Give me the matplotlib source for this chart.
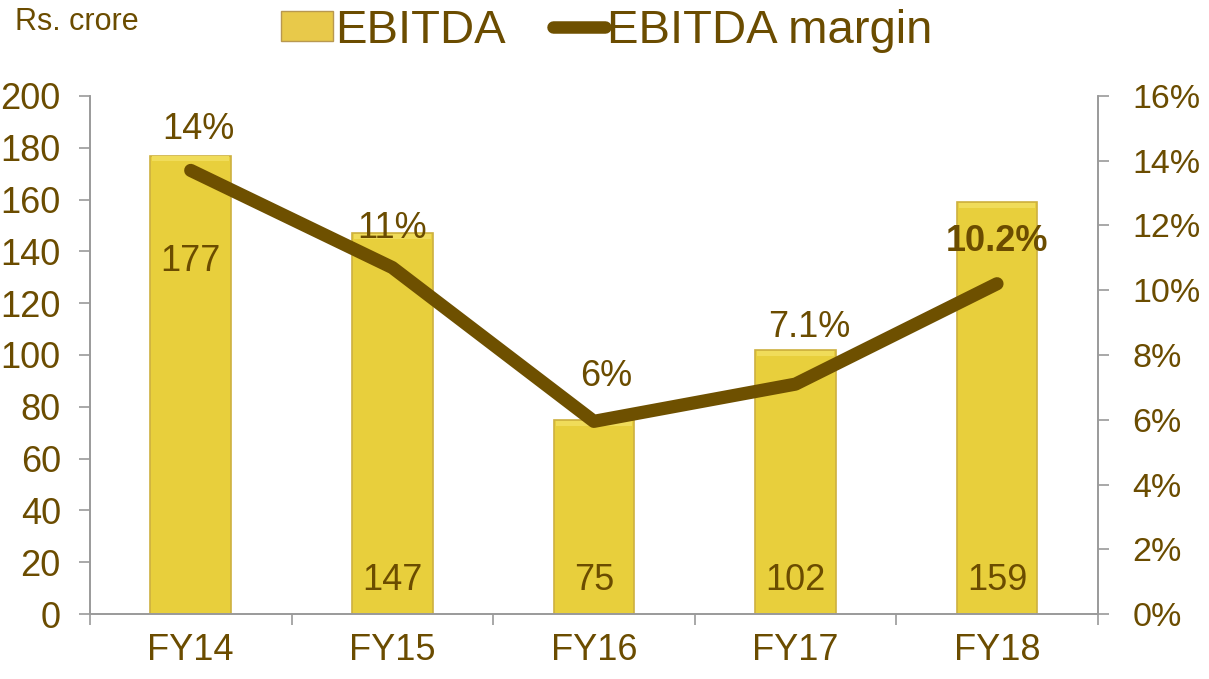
import matplotlib.pyplot as plt
import numpy as np
from matplotlib.lines import Line2D
from matplotlib.patches import Patch

plt.rcParams['font.family'] = ['Liberation Sans', 'DejaVu Sans']

years = ["FY14", "FY15", "FY16", "FY17", "FY18"]
ebitda = [177, 147, 75, 102, 159]
margin = [13.7, 10.7, 5.95, 7.1, 10.2]
margin_labels = ["14%", "11%", "6%", "7.1%", "10.2%"]

txt = '#6b4c00'
line_col = '#6e5000'
bar_col = '#e8cf3c'
grey = '#9a9a9a'

fig = plt.figure(figsize=(12.09, 6.79), dpi=100)
fig.patch.set_facecolor('white')
ax = fig.add_axes([0.0744, 0.0957, 0.8336, 0.763])
ax.set_facecolor('none')
ax2 = ax.twinx()

x = np.arange(len(years))

# ---------------------------
# bars (left axis)
# ---------------------------
ax.bar(x, ebitda, width=0.4, color=bar_col, edgecolor='#cdb040', linewidth=1.2, zorder=2)
ax.bar(x, [2] * len(x), bottom=np.array(ebitda) - 2.3, width=0.38, color='#f0dc5a',
       edgecolor='none', zorder=2.5)
ax.set_xlim(-0.5, 4.5)
ax.set_ylim(0, 200)
ax.set_yticks(np.arange(0, 201, 20))
ax.set_xticks(x)
ax.set_xticklabels(years)
ax.set_xticks(np.arange(-0.5, 4.6, 1), minor=True)
ax.tick_params(axis='x', which='major', length=0, labelsize=26, labelcolor=txt, pad=14)
ax.tick_params(axis='x', which='minor', length=8, color=grey, width=1.2)
ax.tick_params(axis='y', length=8, color=grey, width=1.2, labelsize=26, labelcolor=txt, pad=13)

# bar value labels
for i, v in enumerate(ebitda):
    ypos = 136 if i == 0 else 13
    ax.text(x[i], ypos, str(v), ha='center', va='center', fontsize=26, color=txt, zorder=5)

# ---------------------------
# margin line (right axis)
# ---------------------------
ax2.plot(x, margin, color=line_col, linewidth=9.5, solid_capstyle='round', zorder=4)
ax2.set_ylim(0, 16)
ax2.set_yticks(np.arange(0, 17, 2))
ax2.set_yticklabels([f"{v}%" for v in range(0, 17, 2)])
ax2.tick_params(axis='y', length=8, color=grey, width=1.2, labelsize=24.5, labelcolor=txt, pad=17)

label_y = [14.95, 11.9, 7.35, 8.85, 11.5]
label_dx = [0.04, 0, 0.06, 0.07, 0]
for i, lab in enumerate(margin_labels):
    ax2.text(x[i] + label_dx[i], label_y[i], lab, ha='center', va='center', fontsize=26,
             color=txt, fontweight='bold' if i == 4 else 'normal', zorder=6)

for a in (ax, ax2):
    a.spines['top'].set_visible(False)
    for s in ('left', 'right', 'bottom'):
        a.spines[s].set_color(grey)
        a.spines[s].set_linewidth(1.2)

# ---------------------------
# header
# ---------------------------
fig.text(0.012, 0.968, "Rs. crore", fontsize=22, color=txt, va='center', ha='left')
handles = [Patch(facecolor='#e8c94a', edgecolor='#b89850'),
           Line2D([0], [0], color=line_col, linewidth=9, solid_capstyle='round')]
fig.legend(handles, ["EBITDA", "EBITDA margin"], loc='center', bbox_to_anchor=(0.502, 0.955),
           ncol=2, frameon=False, fontsize=34, labelcolor=txt, handlelength=1.1,
           handletextpad=0.05, columnspacing=1.0, handleheight=0.6)

fig.savefig("out.png", dpi=100)
